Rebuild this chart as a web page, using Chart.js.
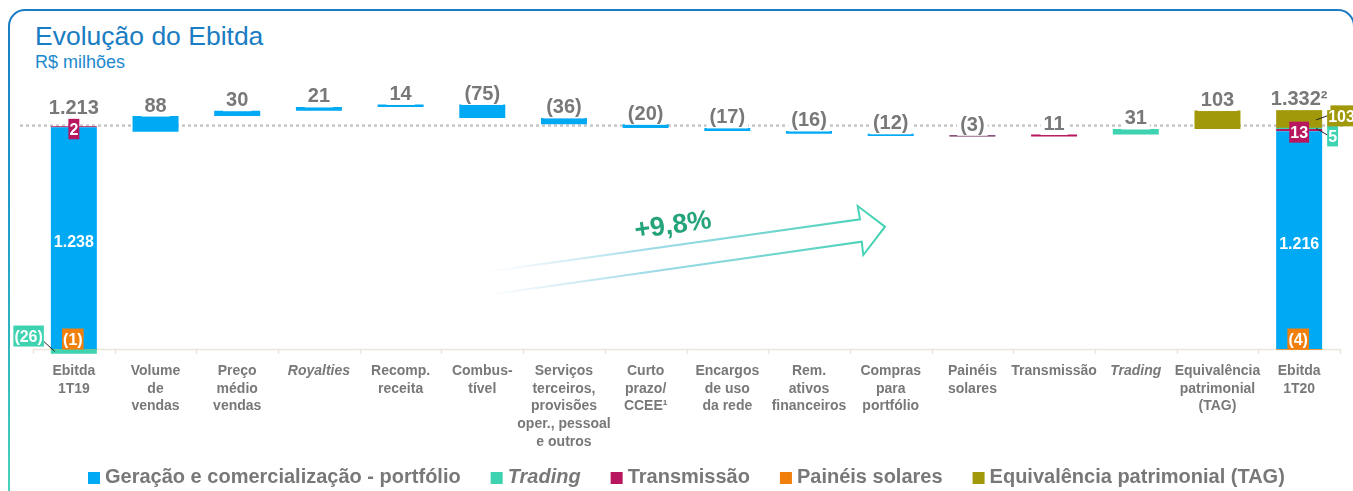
<!DOCTYPE html>
<html lang="pt-BR">
<head>
<meta charset="utf-8">
<title>Evolução do Ebitda</title>
<script src="https://cdn.jsdelivr.net/npm/chart.js@4.4.1/dist/chart.umd.min.js"></script>
<style>
  html, body { margin: 0; padding: 0; background: #fff; overflow: hidden; }
  body { width: 1353px; height: 491px; position: relative; font-family: "Liberation Sans", Arial, sans-serif; }
  #frame {
    position: absolute; left: 8px; top: 9px; width: 1347px; height: 520px;
    border-radius: 17px;
    background: linear-gradient(to bottom, #1b7cc3 0%, #1f9cca 40%, #4cd9b6 100%);
  }
  #frame-inner { position: absolute; inset: 2px; border-radius: 15px; background: #fff; }
  #title { position: absolute; left: 35px; top: 23px; font-size: 26.5px; line-height: 26px; color: #1a7cc2; }
  #subtitle { position: absolute; left: 35px; top: 53px; font-size: 18px; line-height: 18px; color: #1d88cd; }
  #chart { position: absolute; left: 0; top: 0; }
</style>
</head>
<body>
<div id="frame"><div id="frame-inner"></div></div>
<div id="title">Evolução do Ebitda</div>
<div id="subtitle">R$ milhões</div>
<canvas id="chart" width="1353" height="491"></canvas>
<script>
// Data
const CATEGORIES = [
  ["Ebitda", "1T19"],
  ["Volume", "de", "vendas"],
  ["Preço", "médio", "vendas"],
  ["Royalties"],
  ["Recomp.", "receita"],
  ["Combus-", "tível"],
  ["Serviços", "terceiros,", "provisões", "oper., pessoal", "e outros"],
  ["Curto", "prazo/", "CCEE¹"],
  ["Encargos", "de uso", "da rede"],
  ["Rem.", "ativos", "financeiros"],
  ["Compras", "para", "portfólio"],
  ["Painéis", "solares"],
  ["Transmissão"],
  ["Trading"],
  ["Equivalência", "patrimonial", "(TAG)"],
  ["Ebitda", "1T20"],
];
const ITALIC_CATEGORIES = ["Royalties", "Trading"];

const SERIES = [
  "Geração e comercialização - portfólio",
  "Trading",
  "Transmissão",
  "Painéis solares",
  "Equivalência patrimonial (TAG)",
];

// composition of the two total bars, one value per series
const START_PARTS = [1238, -26, 2, -1, 0];
const END_PARTS = [1216, 5, 13, -4, 103];

// waterfall steps between the totals and the series each one belongs to
const STEP_VALUES = [88, 30, 21, 14, -75, -36, -20, -17, -16, -12, -3, 11, 31, 103];
const STEP_SERIES = [0, 0, 0, 0, 0, 0, 0, 0, 0, 0, 3, 2, 1, 4];

const TOTAL_LABELS = ["1.213", "1.332²"];
const REFERENCE_LEVEL = 1248;
const GROWTH_LABEL = "+9,8%";

// styles
const FONT = '"Liberation Sans", Arial, sans-serif';
const GREY = "#787878";
const SERIES_COLORS = ["#00a9f4", "#3dd3b0", "#b8175f", "#f07f0b", "#a2990a"];
const THIN_STEP_COLOR = { 11: "#5e1a52" };
const START_CALLOUTS = ["inside", "left", "center", "zero", null];
const END_CALLOUTS = ["inside", "right-low", "center", "zero", "right-high"];

const fmt = (n) => String(n).replace(/\B(?=(\d{3})+(?!\d))/g, ".");
const fmtSigned = (v) => (v < 0 ? "(" + fmt(-v) + ")" : fmt(v));

// Build floating ranges [low, high] for every series
function buildRanges() {
  const last = CATEGORIES.length - 1;
  const ranges = SERIES.map(() => CATEGORIES.map(() => null));
  const posOrder = [0, 2, 1, 4];
  const negOrder = [3, 1];
  [[0, START_PARTS], [last, END_PARTS]].forEach(([idx, parts]) => {
    let up = 0, down = 0;
    posOrder.forEach((s) => {
      if (parts[s] > 0) { ranges[s][idx] = [up, up + parts[s]]; up += parts[s]; }
    });
    negOrder.forEach((s) => {
      if (parts[s] < 0) { ranges[s][idx] = [down + parts[s], down]; down += parts[s]; }
    });
  });
  let level = START_PARTS.reduce((a, b) => a + b, 0);
  STEP_VALUES.forEach((v, i) => {
    ranges[STEP_SERIES[i]][i + 1] = [Math.min(level, level + v), Math.max(level, level + v)];
    level += v;
  });
  return ranges;
}
const ranges = buildRanges();

function drawBox(ctx, text, cx, cy, color) {
  ctx.font = "bold 16px " + FONT;
  const w = ctx.measureText(text).width + 2;
  const h = 21;
  ctx.fillStyle = color;
  ctx.fillRect(cx - w / 2, cy - h / 2, w, h);
  ctx.fillStyle = "#fff";
  ctx.textAlign = "center";
  ctx.textBaseline = "alphabetic";
  ctx.fillText(text, cx, cy + 6);
  return { l: cx - w / 2, r: cx + w / 2, t: cy - h / 2, b: cy + h / 2 };
}

function boxWidth(ctx, text) {
  ctx.font = "bold 16px " + FONT;
  return ctx.measureText(text).width + 2;
}

function leader(ctx, x1, y1, x2, y2) {
  ctx.strokeStyle = "#222";
  ctx.lineWidth = 1;
  ctx.beginPath();
  ctx.moveTo(x1, y1);
  ctx.lineTo(x2, y2);
  ctx.stroke();
}

function valueLabel(ctx, text, x, baseline) {
  ctx.font = "bold 20px " + FONT;
  ctx.textAlign = "center";
  ctx.textBaseline = "alphabetic";
  const w = ctx.measureText(text).width;
  ctx.fillStyle = "#fff";
  ctx.fillRect(x - w / 2 - 3, baseline - 16, w + 6, 21);
  ctx.fillStyle = GREY;
  ctx.fillText(text, x, baseline);
}

function drawTotal(chart, idx, parts, placements, label) {
  const ctx = chart.ctx;
  const y0 = chart.scales.y.getPixelForValue(0);
  let top = Infinity;
  parts.forEach((v, s) => {
    if (!v) return;
    const el = chart.getDatasetMeta(s).data[idx];
    const t = Math.min(el.y, el.base), b = Math.max(el.y, el.base);
    const mid = (t + b) / 2;
    const left = el.x - el.width / 2, right = el.x + el.width / 2;
    const text = fmtSigned(v);
    const color = SERIES_COLORS[s];
    top = Math.min(top, t);
    let w, box;
    switch (placements[s]) {
      case "inside":
        ctx.font = "bold 16px " + FONT;
        ctx.fillStyle = "#fff";
        ctx.textAlign = "center";
        ctx.textBaseline = "alphabetic";
        ctx.fillText(text, el.x, mid + 9);
        break;
      case "center":
        box = drawBox(ctx, text, el.x, mid + 2, color);
        top = Math.min(top, box.t);
        break;
      case "zero":
        drawBox(ctx, text, el.x - 1, y0 + 0.5 - 10.5, color);
        break;
      case "left":
        w = boxWidth(ctx, text);
        box = drawBox(ctx, text, left - 7 - w / 2, y0 - 13, color);
        leader(ctx, box.r, box.b - 5, left + 4, mid);
        break;
      case "right-high":
        w = boxWidth(ctx, text);
        box = drawBox(ctx, text, right + 5 + w / 2, mid - 3, color);
        leader(ctx, right - 6, mid + 1, box.l, mid - 3);
        break;
      case "right-low":
        w = boxWidth(ctx, text);
        box = drawBox(ctx, text, right + 5 + w / 2, mid + 7.5, color);
        leader(ctx, right - 6, mid, box.l, mid + 6.5);
        break;
    }
  });
  const x = chart.scales.x.getPixelForValue(idx);
  valueLabel(ctx, label, x, top - 4.5);
}

function drawGrowthArrow(ctx) {
  const grad = ctx.createLinearGradient(487, 0, 885, 0);
  grad.addColorStop(0, "rgba(150, 205, 235, 0)");
  grad.addColorStop(0.4, "rgba(110, 200, 220, 0.65)");
  grad.addColorStop(1, "#3fd2b1");
  ctx.strokeStyle = grad;
  ctx.lineWidth = 2;
  ctx.lineJoin = "miter";
  ctx.beginPath();
  ctx.moveTo(487, 271.7);
  ctx.lineTo(860, 219.3);
  ctx.lineTo(857.7, 206);
  ctx.lineTo(885, 226.7);
  ctx.lineTo(863.3, 255);
  ctx.lineTo(861.7, 241.7);
  ctx.lineTo(487, 295);
  ctx.stroke();

  ctx.save();
  ctx.translate(673, 226);
  ctx.rotate(-8 * Math.PI / 180);
  ctx.font = "bold 27px " + FONT;
  ctx.fillStyle = "#25a47c";
  ctx.textAlign = "center";
  ctx.textBaseline = "middle";
  ctx.fillText(GROWTH_LABEL, 0, 0);
  ctx.restore();
}

function drawLegend(ctx) {
  let x = 88;
  ctx.textAlign = "left";
  ctx.textBaseline = "alphabetic";
  SERIES.forEach((name, s) => {
    ctx.font = (s === 1 ? "italic " : "") + "bold 20px " + FONT;
    ctx.fillStyle = SERIES_COLORS[s];
    ctx.fillRect(x, 472, 12, 12);
    ctx.fillStyle = GREY;
    ctx.fillText(name, x + 17, 483);
    x += 17 + ctx.measureText(name).width + 30;
  });
}

const waterfallDecor = {
  id: "waterfallDecor",
  beforeDatasetsDraw(chart) {
    const { ctx, chartArea: a, scales: { y } } = chart;
    const y0 = y.getPixelForValue(0);
    const step = (a.right - a.left) / CATEGORIES.length;
    ctx.save();
    // axis line and category separators
    ctx.strokeStyle = "#ebe6da";
    ctx.lineWidth = 1.5;
    ctx.beginPath();
    ctx.moveTo(a.left, y0 + 0.5);
    ctx.lineTo(a.right, y0 + 0.5);
    for (let i = 0; i <= CATEGORIES.length; i++) {
      const px = Math.round(a.left + i * step) + 0.5;
      ctx.moveTo(px, y0);
      ctx.lineTo(px, y0 + 5);
    }
    ctx.stroke();
    // dotted reference level
    const yr = y.getPixelForValue(REFERENCE_LEVEL);
    ctx.strokeStyle = "#c6c6c6";
    ctx.lineWidth = 2.5;
    ctx.setLineDash([3, 3]);
    ctx.beginPath();
    ctx.moveTo(a.left - 13, yr);
    ctx.lineTo(a.right + 6, yr);
    ctx.stroke();
    ctx.restore();
  },
  afterDatasetsDraw(chart) {
    const ctx = chart.ctx;
    ctx.save();
    // step labels
    STEP_VALUES.forEach((v, i) => {
      const el = chart.getDatasetMeta(STEP_SERIES[i]).data[i + 1];
      const top = Math.min(el.y, el.base);
      valueLabel(ctx, fmtSigned(v), el.x, top - 4.5);
    });
    drawTotal(chart, 0, START_PARTS, START_CALLOUTS, TOTAL_LABELS[0]);
    drawTotal(chart, CATEGORIES.length - 1, END_PARTS, END_CALLOUTS, TOTAL_LABELS[1]);
    drawGrowthArrow(ctx);
    drawLegend(ctx);
    ctx.restore();
  },
};

const last = CATEGORIES.length - 1;
const datasets = SERIES.map((name, s) => ({
  label: name,
  data: ranges[s],
  backgroundColor: (c) =>
    c.dataIndex !== 0 && c.dataIndex !== last && THIN_STEP_COLOR[c.dataIndex]
      ? THIN_STEP_COLOR[c.dataIndex]
      : SERIES_COLORS[s],
  borderWidth: 0,
  grouped: false,
  barPercentage: 0.563,
  categoryPercentage: 1,
  minBarLength: 1.2,
}));

new Chart(document.getElementById("chart").getContext("2d"), {
  type: "bar",
  data: { labels: CATEGORIES, datasets: datasets },
  options: {
    responsive: false,
    animation: false,
    devicePixelRatio: 1,
    layout: { padding: { left: 33, right: 13, top: 40, bottom: 0 } },
    plugins: {
      legend: { display: false },
      tooltip: { enabled: false },
    },
    scales: {
      x: {
        offset: true,
        grid: { display: false, drawTicks: false },
        border: { display: false },
        ticks: {
          autoSkip: false,
          maxRotation: 0,
          padding: 8,
          color: GREY,
          font: (c) => ({
            family: FONT,
            size: 14,
            weight: "bold",
            lineHeight: 1.26,
            style: ITALIC_CATEGORIES.includes(CATEGORIES[c.index].join(" ")) ? "italic" : "normal",
          }),
        },
        afterFit: (axis) => { axis.height = 136.6; },
      },
      y: { display: false, min: -30, max: 1726 },
    },
  },
  plugins: [waterfallDecor],
});
</script>
</body>
</html>
